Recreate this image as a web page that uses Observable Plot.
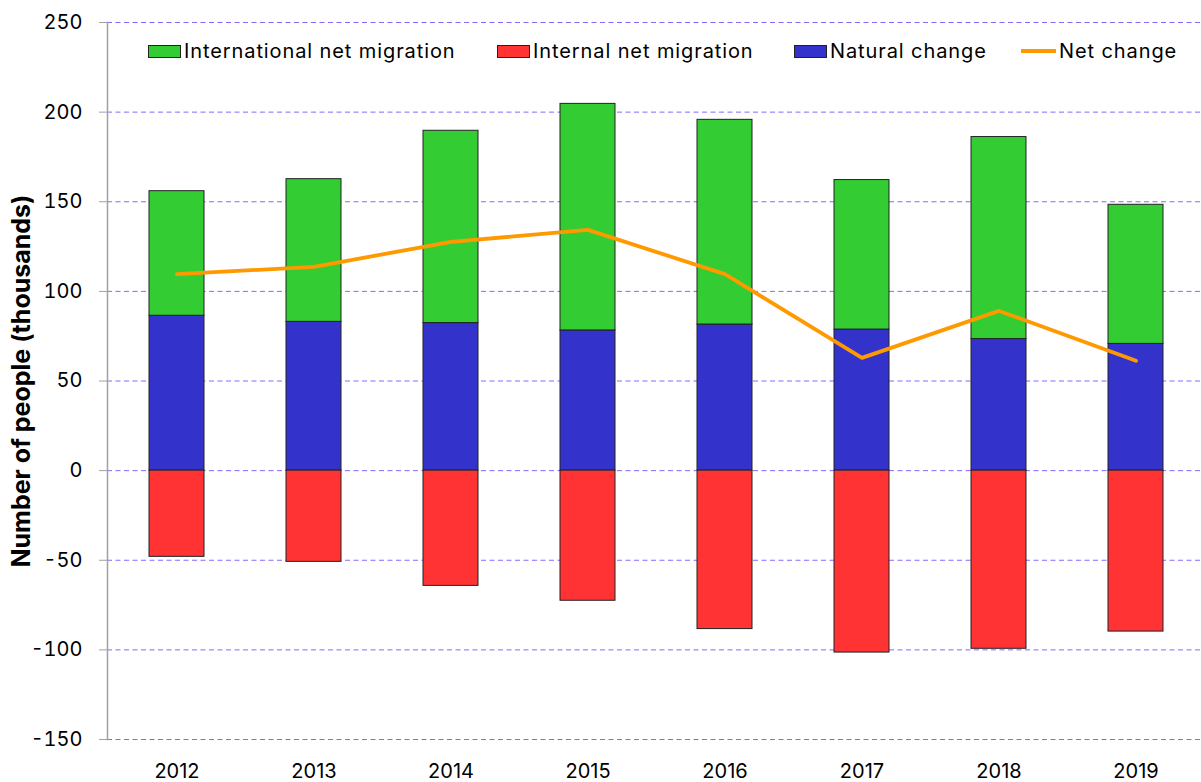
<!DOCTYPE html>
<html>
<head>
<meta charset="utf-8">
<script src="https://cdn.jsdelivr.net/npm/d3@7"></script>
<script src="https://cdn.jsdelivr.net/npm/@observablehq/plot@0.6"></script>
<style>
  html, body { margin: 0; padding: 0; background: #fff; }
  #wrap { position: relative; width: 1201px; height: 782px; font-family: Inter, Lato, sans-serif; }
  .leg { position: absolute; top: 39px; height: 24px; display: flex; align-items: center; font-size: 20px; color: #000; white-space: nowrap; }
  .leg .tx { letter-spacing: 0.9px; }
  .sw { width: 31px; height: 11px; border: 1px solid #222; margin-right: 3px; }
  .ln { width: 35px; height: 4px; margin-right: 3px; }
</style>
</head>
<body>
<div id="wrap"></div>
<script>
const years = ["2012", "2013", "2014", "2015", "2016", "2017", "2018", "2019"];
const naturalChange = [86.4, 83.0, 82.3, 78.2, 81.5, 78.7, 73.4, 70.7];
const internationalNet = [69.5, 79.6, 107.3, 126.4, 114.2, 83.4, 112.7, 77.6];
const internalNet = [-48.1, -50.9, -64.3, -72.6, -88.4, -101.5, -99.4, -89.8];
const netChange = [109.6, 113.7, 127.6, 134.3, 109.6, 62.9, 89.1, 61.3];
const yTicks = [-150, -100, -50, 0, 50, 100, 150, 200, 250];

const seriesNames = ["International net migration", "Internal net migration", "Natural change"];
const seriesColors = ["#33cc33", "#ff3333", "#3333cc"];
const lineName = "Net change";
const lineColor = "#ff9900";

const rows = [];
years.forEach((yr, i) => {
  rows.push({year: yr, series: "Natural change", value: naturalChange[i]});
  rows.push({year: yr, series: "International net migration", value: internationalNet[i]});
  rows.push({year: yr, series: "Internal net migration", value: internalNet[i]});
});
const netRows = years.map((yr, i) => ({year: yr, value: netChange[i]}));

const chart = Plot.plot({
  width: 1201,
  height: 782,
  marginLeft: 107,
  marginRight: 0,
  marginTop: 22,
  marginBottom: 43,
  x: {domain: years, range: [107, 1205], paddingInner: 0.6, paddingOuter: 0.3, axis: null},
  y: {domain: [-150, 250], axis: null},
  color: {domain: seriesNames, range: seriesColors},
  style: {fontFamily: "Inter, Lato, sans-serif", fontSize: "20px", color: "#000", background: "#fff"},
  marks: [
    Plot.gridY(yTicks, {stroke: "#8a66ff", strokeOpacity: 1, strokeDasharray: "5,3.5", strokeWidth: 1}),
    Plot.barY(rows, {
      x: "year", y: "value", fill: "series", stroke: "#222", strokeWidth: 1,
      order: ["Natural change", "International net migration", "Internal net migration"]
    }),
    Plot.lineY(netRows, {x: "year", y: "value", stroke: lineColor, strokeWidth: 3.8}),
    Plot.frame({anchor: "left", stroke: "#a0a0a0", strokeWidth: 1.5}),
    Plot.axisY(yTicks, {tickSize: 8, tickPadding: 17, stroke: "#a0a0a0", fill: "#000", fontSize: 20, label: null, tickFormat: d => String(d)}),
    Plot.axisX(years, {tickSize: 0, tickPadding: 24, fill: "#000", fontSize: 20, label: null}),
    Plot.text(["Number of people (thousands)"], {
      frameAnchor: "left", textAnchor: "middle", rotate: -90, dx: -86,
      fontWeight: "bold", fontSize: 25, fill: "#000"
    })
  ]
});

const wrap = document.getElementById("wrap");
wrap.appendChild(chart);

const legendX = [148, 497, 794];
seriesNames.forEach((name, i) => {
  const d = document.createElement("div");
  d.className = "leg";
  d.style.left = legendX[i] + "px";
  d.innerHTML = `<span class="sw" style="background:${seriesColors[i]}"></span><span class="tx">${name}</span>`;
  wrap.appendChild(d);
});
const dl = document.createElement("div");
dl.className = "leg";
dl.style.left = "1021px";
dl.innerHTML = `<span class="ln" style="background:${lineColor}"></span><span class="tx">${lineName}</span>`;
wrap.appendChild(dl);
</script>
</body>
</html>
